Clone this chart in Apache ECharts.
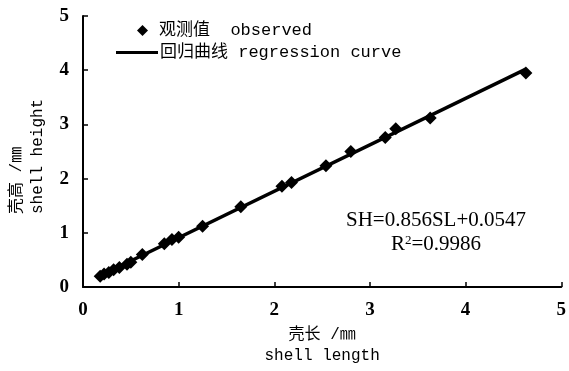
<!DOCTYPE html>
<html>
<head>
<meta charset="utf-8">
<script src="https://cdn.jsdelivr.net/npm/echarts@6/dist/echarts.min.js"></script>
<style>
  html, body { margin: 0; padding: 0; background: #fff; }
  #chart { width: 569px; height: 371px; }
</style>
</head>
<body>
<div id="chart"></div>
<script>
// observed shell length / height (mm)
const shellLength = [0.18, 0.22, 0.27, 0.32, 0.38, 0.46, 0.5, 0.62, 0.85, 0.93, 1.0, 1.25, 1.65, 2.08, 2.18, 2.54, 2.8, 3.16, 3.27, 3.63, 4.63];
const shellHeight = [0.2, 0.24, 0.27, 0.32, 0.36, 0.42, 0.46, 0.6, 0.8, 0.88, 0.92, 1.12, 1.48, 1.86, 1.93, 2.24, 2.5, 2.76, 2.92, 3.12, 3.95];
// regression line ends as drawn
const fitX = [0.17, 4.63];
const fitY = [0.2, 4.02];
const xTicks = ['0', '1', '2', '3', '4', '5'];
const yTicks = ['0', '1', '2', '3', '4', '5'];

const serif = '"Liberation Serif", "Noto Sans CJK SC", serif';
const mono = '"Liberation Mono", "Noto Sans CJK SC", monospace';

const chart = echarts.init(document.getElementById('chart'));

const option = {
  backgroundColor: '#fff',
  animation: false,
  textStyle: { fontFamily: serif, color: '#000' },
  grid: { left: 83, right: 5, top: 16, bottom: 77 },
  legend: [
    {
      left: 132, top: 17,
      itemWidth: 11, itemHeight: 11, itemGap: 10,
      textStyle: { fontFamily: mono, fontSize: 17, color: '#000', padding: [0, 0, 0, 6] },
      data: [{ name: '观测值  observed', icon: 'diamond' }]
    },
    {
      left: 111, top: 39,
      itemWidth: 42, itemHeight: 3, itemGap: 2,
      textStyle: { fontFamily: mono, fontSize: 17, color: '#000', padding: [0, 0, 0, -3] },
      data: [{ name: '回归曲线 regression curve', icon: 'rect' }]
    }
  ],
  xAxis: {
    type: 'value',
    min: 0, max: 5, interval: 1,
    name: '壳长 /㎜\nshell length',
    nameLocation: 'middle',
    nameGap: 30,
    nameTextStyle: { fontFamily: mono, fontSize: 16, color: '#000', lineHeight: 21, verticalAlign: 'top' },
    axisLine: { lineStyle: { color: '#000', width: 2 } },
    axisTick: { inside: true, length: 5, lineStyle: { color: '#000', width: 1.5 } },
    axisLabel: { fontSize: 19, fontWeight: 'bold', color: '#000', margin: 13, formatter: v => xTicks[v] },
    splitLine: { show: false }
  },
  yAxis: {
    type: 'value',
    min: 0, max: 5, interval: 1,
    axisLine: { show: true, lineStyle: { color: '#000', width: 2 } },
    axisTick: { show: true, inside: true, length: 5, lineStyle: { color: '#000', width: 1.5 } },
    axisLabel: { fontSize: 19, fontWeight: 'bold', color: '#000', margin: 14, formatter: v => yTicks[v] },
    splitLine: { show: false }
  },
  graphic: [
    {
      type: 'text',
      x: 27, y: 214,
      rotation: Math.PI / 2,
      style: {
        text: '壳高 /㎜\nshell height',
        font: '16px ' + mono,
        fill: '#000',
        align: 'left',
        verticalAlign: 'middle',
        lineHeight: 21
      }
    },
    {
      type: 'text',
      x: 436, y: 232,
      style: {
        text: 'SH=0.856SL+0.0547\n{n|R}{s|2}{n|=0.9986}',
        font: '21px ' + serif,
        fill: '#000',
        align: 'center',
        verticalAlign: 'middle',
        lineHeight: 24,
        rich: {
          n: { fontSize: 21, fontFamily: serif },
          s: { fontSize: 13, fontFamily: serif, verticalAlign: 'bottom', padding: [0, 0, 9, 0] }
        }
      }
    }
  ],
  series: [
    {
      name: '回归曲线 regression curve',
      type: 'line',
      data: fitX.map((x, i) => [x, fitY[i]]),
      showSymbol: false,
      symbol: 'none',
      lineStyle: { color: '#000', width: 3.5 },
      itemStyle: { color: '#000' },
      z: 2
    },
    {
      name: '观测值  observed',
      type: 'scatter',
      data: shellLength.map((x, i) => [x, shellHeight[i]]),
      symbol: 'diamond',
      symbolSize: 13,
      itemStyle: { color: '#000', opacity: 1 },
      z: 3
    }
  ]
};

chart.setOption(option);
</script>
</body>
</html>
